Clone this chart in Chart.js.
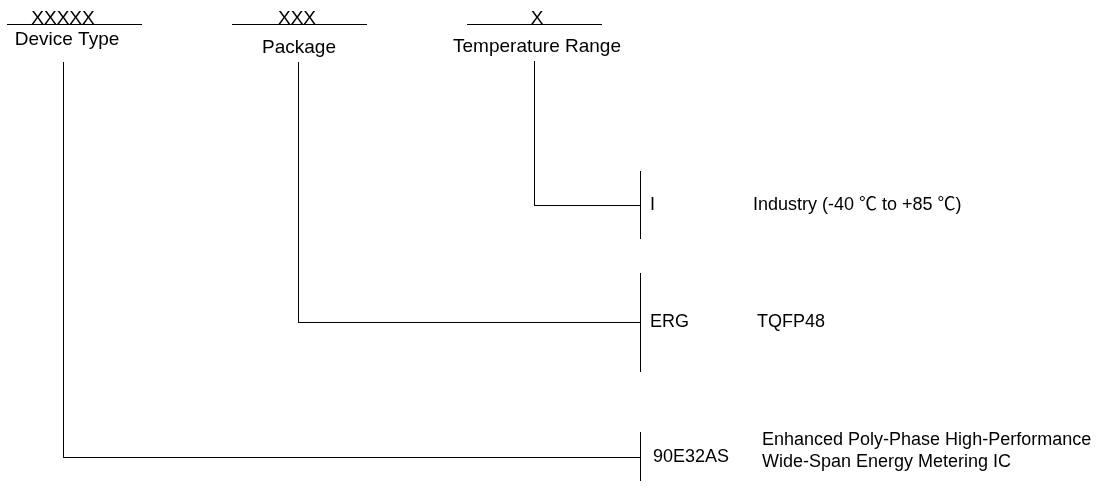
<!DOCTYPE html>
<html>
<head>
<meta charset="utf-8">
<script src="https://cdn.jsdelivr.net/npm/chart.js@4"></script>
<style>
  html, body { margin: 0; padding: 0; background: #fff; }
  #wrap { width: 1104px; height: 487px; position: relative; }
</style>
</head>
<body>
<div id="wrap"><canvas id="myChart1"></canvas></div>
<script>
// ordering code fields, left to right
const fields = ['Device Type', 'Package', 'Temperature Range'];
const codes = ['XXXXX', 'XXX', 'X'];
// option for each field, and what it means
const options = ['90E32AS', 'ERG', 'I'];
const descriptions = [
    ['Enhanced Poly-Phase High-Performance', 'Wide-Span Energy Metering IC'],
    ['TQFP48'],
    ['Industry (-40 \u2103 to +85 \u2103)']
];

document.addEventListener("DOMContentLoaded", function() {

    // layout, in page units (the x/y scales run 0..1104 / 0..487)
    const layout = {
        underlineY: 24.5,
        underline: [[7, 142], [232, 367], [467, 602]],
        codeX: [63, 297, 537],
        codeY: 24,
        labelX: [67, 299, 537],
        labelY: [45, 53, 52],
        stemX: [63.5, 298.5, 534.5],
        stemTop: [62, 62, 61],
        rowY: [457.5, 322.5, 205.5],
        bracket: [[432, 481], [273, 372], [171, 239]],
        busX: 640.5,
        optionX: [653, 650, 650],
        descX: [762, 757, 753],
        descGap: 22
    };
    const headFont = '19px "Liberation Sans", Arial, "Noto Sans CJK SC", sans-serif';
    const font = '18px "Liberation Sans", Arial, "Noto Sans CJK SC", sans-serif';

    const seg = (x1, y1, x2, y2) => ({
        data: [{x: x1, y: y1}, {x: x2, y: y2}],
        showLine: true,
        borderColor: '#000',
        borderWidth: 1,
        pointRadius: 0,
        fill: false
    });

    const datasets = [];
    fields.forEach(function(f, i) {
        const u = layout.underline[i];
        datasets.push(seg(u[0], layout.underlineY, u[1], layout.underlineY));
        // stem down, then across to the bracket
        datasets.push(seg(layout.stemX[i], layout.stemTop[i], layout.stemX[i], layout.rowY[i]));
        datasets.push(seg(layout.stemX[i], layout.rowY[i], layout.busX, layout.rowY[i]));
        const b = layout.bracket[i];
        datasets.push(seg(layout.busX, b[0], layout.busX, b[1]));
    });

    const textPlugin = {
        id: 'labels',
        afterDatasetsDraw(chart) {
            const ctx = chart.ctx;
            const xs = chart.scales.x, ys = chart.scales.y;
            ctx.save();
            ctx.fillStyle = '#000';
            ctx.font = headFont;
            // header: code over the line, field name under it
            ctx.textAlign = 'center';
            ctx.textBaseline = 'alphabetic';
            fields.forEach(function(f, i) {
                ctx.fillText(codes[i], xs.getPixelForValue(layout.codeX[i]), ys.getPixelForValue(layout.codeY));
                ctx.fillText(f, xs.getPixelForValue(layout.labelX[i]), ys.getPixelForValue(layout.labelY[i]));
            });
            // options and descriptions
            ctx.font = font;
            ctx.textAlign = 'left';
            ctx.textBaseline = 'middle';
            options.forEach(function(o, i) {
                const y = layout.rowY[i];
                ctx.fillText(o, xs.getPixelForValue(layout.optionX[i]), ys.getPixelForValue(y));
                const lines = descriptions[i];
                const y0 = y - (lines.length - 1) * layout.descGap / 2 - (lines.length > 1 ? 6 : 0);
                lines.forEach(function(t, k) {
                    ctx.fillText(t, xs.getPixelForValue(layout.descX[i]), ys.getPixelForValue(y0 + k * layout.descGap));
                });
            });
            ctx.restore();
        }
    };

    const config = {
        type: 'scatter',
        data: { datasets: datasets },
        options: {
            responsive: true,
            maintainAspectRatio: false,
            animation: false,
            layout: { padding: 0 },
            clip: false,
            scales: {
                x: { type: 'linear', display: false, min: 0, max: 1104 },
                y: { type: 'linear', display: false, min: 0, max: 487, reverse: true }
            },
            plugins: {
                legend: { display: false },
                tooltip: { enabled: false }
            }
        },
        plugins: [textPlugin]
    };
    var myChart = new Chart(
        document.getElementById('myChart1'),
        config
    );

});
</script>
</body>
</html>
